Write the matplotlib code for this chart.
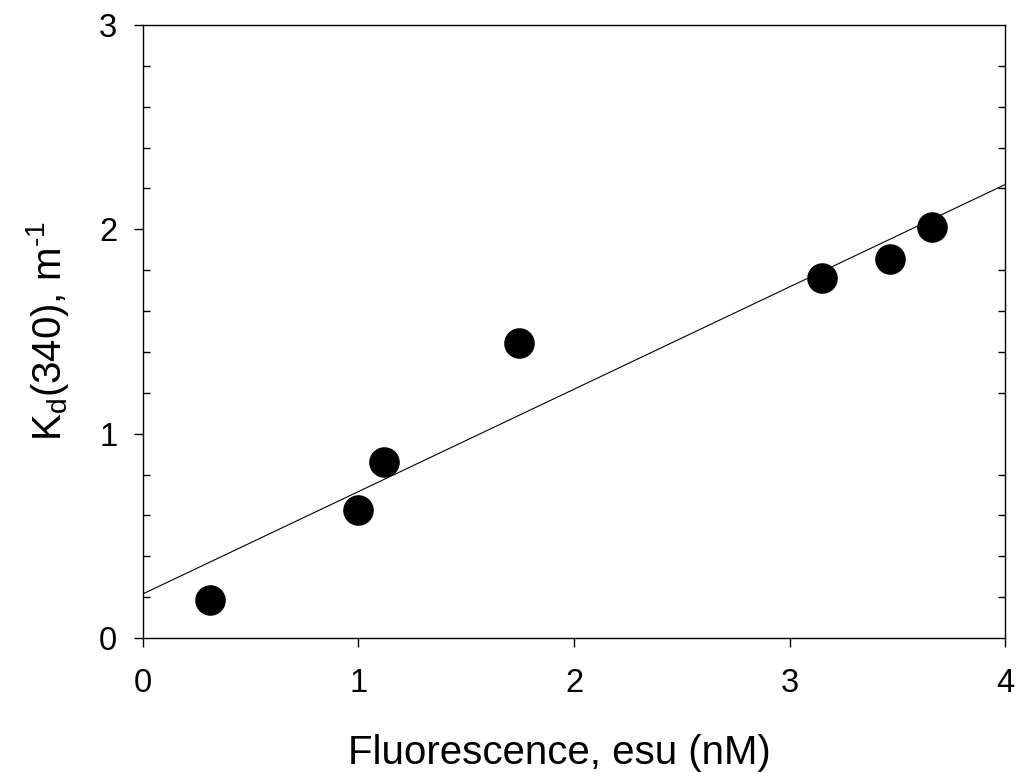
import matplotlib

matplotlib.use("Agg")
import matplotlib.pyplot as plt
import numpy as np
from matplotlib.ticker import MultipleLocator

# values
fluor_nM = [0.31, 1.00, 1.12, 1.745, 3.15, 3.465, 3.66]
kd_340 = [0.186, 0.627, 0.863, 1.442, 1.764, 1.853, 2.013]

x_ticks = [0, 1, 2, 3, 4]
y_ticks = [0, 1, 2, 3]

plt.rcParams.update({
    "font.family": ["Liberation Sans", "DejaVu Sans"],
    "mathtext.fontset": "custom",
    "mathtext.rm": "Liberation Sans",
    "mathtext.it": "Liberation Sans",
})

fig = plt.figure(figsize=(10.19, 7.74), dpi=100)
ax = fig.add_axes([0.1403, 0.1757, 0.8460, 0.7920])

# linear regression line across the full x range
slope, icpt = np.polyfit(fluor_nM, kd_340, 1)
xl = np.array([x_ticks[0], x_ticks[-1]], float)
ax.plot(xl, icpt + slope * xl, color="black", lw=0.8, zorder=2)

ax.plot(fluor_nM, kd_340, "o", color="black", ms=21, mec="black", zorder=3)

ax.set_xlim(x_ticks[0], x_ticks[-1])
ax.set_ylim(y_ticks[0], y_ticks[-1])
ax.set_xticks(x_ticks)
ax.set_yticks(y_ticks)
ax.yaxis.set_minor_locator(MultipleLocator(0.2))

for s in ax.spines.values():
    s.set_linewidth(1.0)

ax.tick_params(axis="x", which="major", direction="out", length=6.5, width=1.0,
               labelsize=23.5, pad=15, top=False)
ax.tick_params(axis="y", which="major", direction="out", length=6.5, width=1.0,
               labelsize=23.5, pad=12, right=False)
ax.tick_params(axis="y", which="minor", direction="in", length=5, width=1.0,
               left=True, right=True)

ax.set_xlabel("Fluorescence, esu (nM)", fontsize=29)
ax.xaxis.set_label_coords(0.483, -0.157)
ax.set_ylabel("K$_\\mathregular{d}$(340), m$^\\mathregular{\u20101}$", fontsize=29,
              labelpad=20)

fig.savefig("out.png", dpi=100)
